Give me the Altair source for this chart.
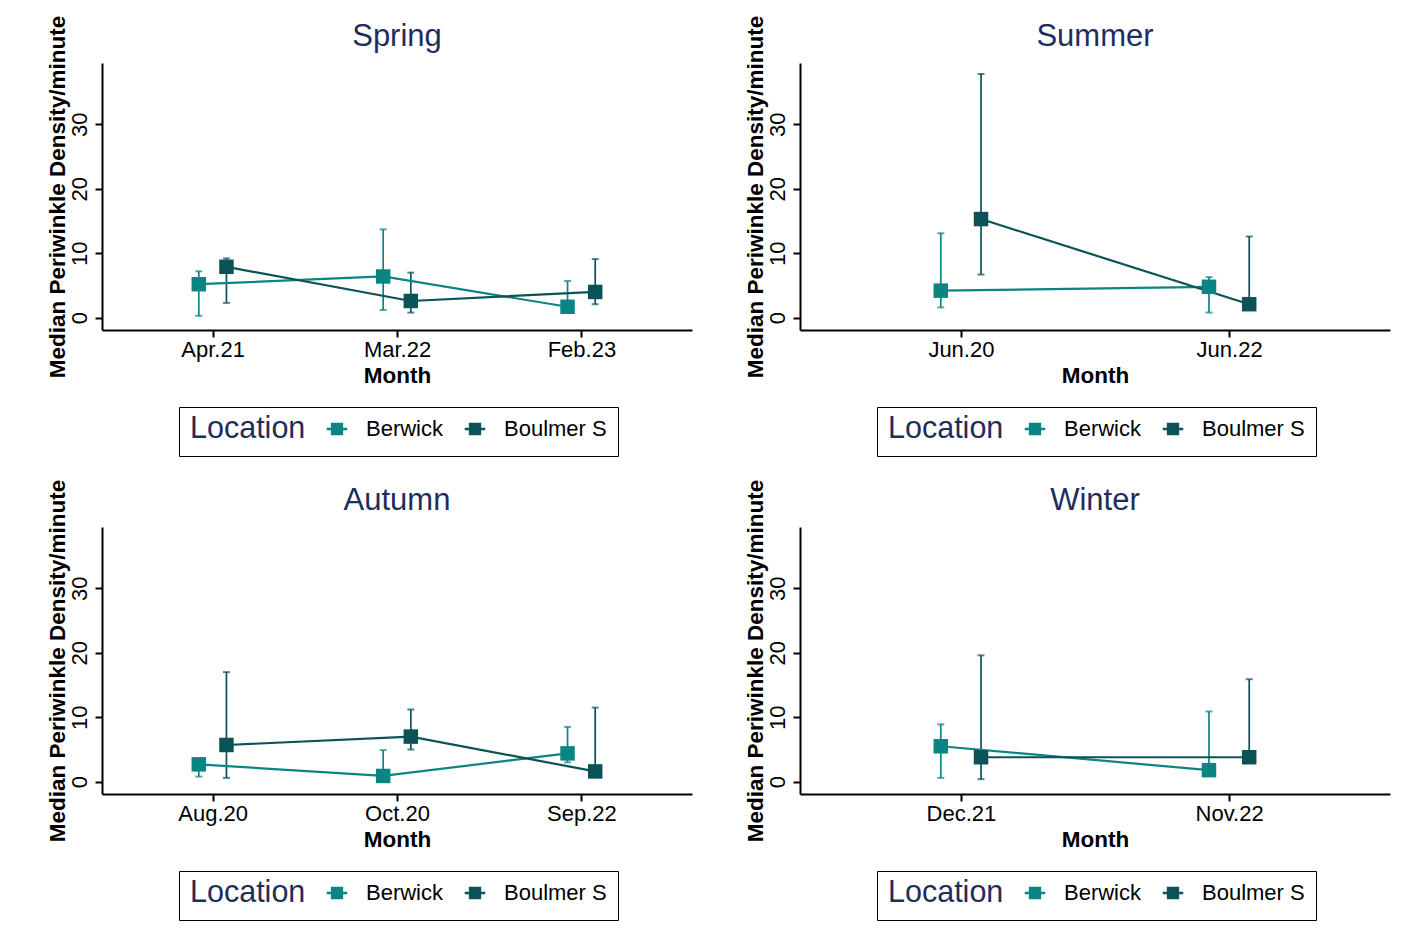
import altair as alt
import pandas as pd

# ---- data ----
season = ["Spring", "Spring", "Spring", "Summer", "Summer",
          "Autumn", "Autumn", "Autumn", "Winter", "Winter"]
month = ["Apr.21", "Mar.22", "Feb.23", "Jun.20", "Jun.22",
         "Aug.20", "Oct.20", "Sep.22", "Dec.21", "Nov.22"]
locations = ["Berwick", "Boulmer S"]

berwick_median = [5.2, 6.4, 1.7, 4.2, 4.8, 2.7, 0.9, 4.4, 5.5, 1.8]
berwick_lower = [0.3, 1.2, 1.0, 1.6, 0.8, 0.8, 0.5, 3.0, 0.6, 1.2]
berwick_upper = [7.2, 13.7, 5.7, 13.1, 6.3, 3.5, 4.9, 8.5, 8.9, 10.9]

boulmer_median = [7.9, 2.6, 4.0, 15.3, 2.1, 5.7, 7.0, 1.6, 3.8, 3.8]
boulmer_lower = [2.3, 0.8, 2.1, 6.7, 1.5, 0.6, 5.0, 1.0, 0.4, 3.0]
boulmer_upper = [9.2, 7.0, 9.1, 37.8, 12.6, 17.0, 11.2, 11.5, 19.6, 15.9]

seasons = ["Spring", "Summer", "Autumn", "Winter"]
y_ticks = [0, 10, 20, 30]

# ---- styling ----
FONT = "Liberation Sans"
COLORS = ["#0b8582", "#0b5356"]
NAVY = "#1f2d5c"
SYMBOL = "M-1,-0.13H-0.6V-0.6H0.6V-0.13H1V0.13H0.6V0.6H-0.6V0.13H-1Z"
W, H = 590, 267

rows = []
for loc, med, lo, hi in [("Berwick", berwick_median, berwick_lower, berwick_upper),
                         ("Boulmer S", boulmer_median, boulmer_lower, boulmer_upper)]:
    counter = {}
    for s, m, a, b, c in zip(season, month, med, lo, hi):
        counter[s] = counter.get(s, 0) + 1
        rows.append(dict(season=s, month=m, idx=counter[s], location=loc,
                         median=a, lower=b, upper=c))
df = pd.DataFrame(rows)


def panel(name):
    d = df[df.season == name]
    labels = list(d[d.location == "Berwick"].month)
    n = len(labels)
    expr = "[''," + ",".join("'%s'" % l for l in labels) + "][datum.value]"
    base = alt.Chart(d).transform_calculate(
        xpos="datum.idx + (datum.location == 'Berwick' ? -0.075 : 0.075)"
    )
    x = alt.X("xpos:Q",
              scale=alt.Scale(domain=[0.4, n + 0.6], nice=False, zero=False),
              axis=alt.Axis(values=list(range(1, n + 1)), labelExpr=expr,
                            title="Month"))
    yscale = alt.Scale(domain=[-1.9, 39.5], nice=False, zero=False)
    yaxis = alt.Axis(values=y_ticks, title="Median Periwinkle Density/minute",
                     labelAngle=270, labelAlign="center", labelBaseline="bottom")
    color = alt.Color(
        "location:N",
        scale=alt.Scale(domain=locations, range=COLORS),
        legend=alt.Legend(
            orient="none", legendX=77, legendY=344,
            direction="horizontal", title="Location", titleOrient="left",
            titleFont=FONT, titleFontSize=30.5, titleFontWeight="normal",
            titleColor=NAVY, titlePadding=20, titleBaseline="middle",
            labelFont=FONT, labelFontSize=22, labelColor="black",
            labelOffset=18, columnPadding=20,
            symbolType=SYMBOL, symbolSize=420, symbolStrokeWidth=0,
            symbolOpacity=1,
            strokeColor="black", padding=11,
        ))
    rules = base.mark_rule(strokeWidth=1.7).encode(
        x=x, y=alt.Y("lower:Q", scale=yscale, axis=yaxis), y2="upper:Q",
        color=color)
    cap_hi = base.mark_tick(orient="horizontal", size=7, thickness=2).encode(
        x=x, y=alt.Y("upper:Q", scale=yscale), color=color)
    cap_lo = base.mark_tick(orient="horizontal", size=7, thickness=2).encode(
        x=x, y=alt.Y("lower:Q", scale=yscale), color=color)
    lines = base.mark_line(strokeWidth=2.2).encode(
        x=x, y=alt.Y("median:Q", scale=yscale), color=color,
        order="xpos:Q")
    points = base.mark_point(shape="square", filled=True, size=210,
                             opacity=1).encode(
        x=x, y=alt.Y("median:Q", scale=yscale), color=color)
    return alt.layer(rules, cap_hi, cap_lo, lines, points).properties(
        width=W, height=H,
        title=alt.TitleParams(name, font=FONT, fontSize=31,
                              fontWeight="normal", color=NAVY,
                              anchor="middle", frame="group", offset=-38),
    )


spring = panel("Spring")
summer = panel("Summer")
autumn = panel("Autumn")
winter = panel("Winter")

row1 = alt.hconcat(spring, summer, spacing=51).resolve_scale(color="independent")
row2 = alt.hconcat(autumn, winter, spacing=51).resolve_scale(color="independent")
chart = alt.vconcat(row1, row2, spacing=22).resolve_scale(color="independent")

chart = chart.properties(
    padding={"left": 37, "top": 7, "right": 5, "bottom": 5},
    background="white",
).configure_view(stroke=None).configure_axis(
    grid=False,
    domainColor="black", domainWidth=2,
    tickColor="black", tickWidth=2, tickSize=7,
    labelFont=FONT, labelFontSize=22, labelColor="black",
    titleFont=FONT, titleFontSize=22.5, titleFontWeight="bold",
    titleColor="black",
).configure_axisX(
    labelPadding=2, titlePadding=4,
).configure_axisY(
    labelPadding=4, titlePadding=-1,
)

chart.save("out.html", embed_options={"renderer": "svg", "actions": False})
